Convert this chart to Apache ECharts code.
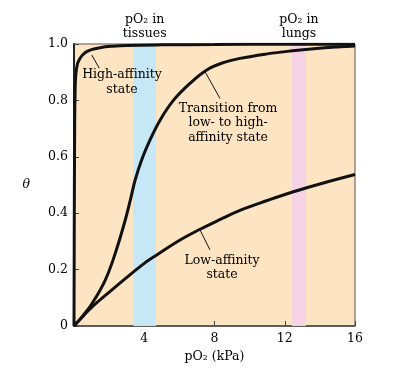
<!DOCTYPE html>
<html>
<head>
<meta charset="utf-8">
<script src="https://cdn.jsdelivr.net/npm/echarts@6/dist/echarts.min.js"></script>
<style>
  html, body { margin: 0; padding: 0; background: #fff; }
  #chart { width: 414px; height: 375px; }
</style>
</head>
<body>
<div id="chart"></div>
<script>
// curves: [pO2 kPa, theta]
const highAffinity = [
  [0, 0], [0.02, 0.45], [0.04, 0.72], [0.06, 0.82], [0.1, 0.89], [0.2, 0.93],
  [0.34, 0.949], [0.5, 0.962], [0.72, 0.973], [1.0, 0.98], [1.48, 0.987],
  [2.2, 0.992], [3.0, 0.995], [5, 0.997], [8, 0.998], [12, 0.999], [16, 0.999]
];
const transition = [
  [0, 0], [0.5, 0.036], [1.03, 0.08], [1.78, 0.163], [2.35, 0.258], [2.92, 0.376],
  [3.21, 0.447], [3.47, 0.515], [3.85, 0.589], [4.33, 0.66], [4.9, 0.73],
  [5.66, 0.8], [6.6, 0.86], [7.56, 0.908], [8.5, 0.934], [9.45, 0.949],
  [11, 0.965], [12.3, 0.975], [13.8, 0.984], [15.15, 0.99], [16, 0.993]
];
const lowAffinity = [
  [0, 0], [0.5, 0.034], [1.03, 0.068], [2.16, 0.128], [3.87, 0.216],
  [4.71, 0.252], [6.04, 0.305], [7.18, 0.343], [8.3, 0.377], [9.45, 0.41],
  [11, 0.445], [12.49, 0.476], [14.2, 0.507], [16, 0.537]
];

// shaded pO2 ranges
const tissueBand = [3.38, 4.67];
const lungBand = [12.41, 13.2];

const xTicks = [0, 4, 8, 12, 16];
const yTicks = [0, 0.2, 0.4, 0.6, 0.8, 1.0];

// annotation text and leader lines (data coords)
const notes = [
  { text: 'High-affinity\nstate', at: [2.73, 0.864], leader: [[1.01, 0.961], [1.44, 0.914]] },
  { text: 'Transition from\nlow- to high-\naffinity state', at: [8.77, 0.72], leader: [[7.46, 0.902], [8.31, 0.807]] },
  { text: 'Low-affinity\nstate', at: [8.43, 0.206], leader: [[7.18, 0.34], [7.74, 0.27]] }
];

const FONT = 'DejaVu Serif';
const INK = '#000';

const chart = echarts.init(document.getElementById('chart'));

const curve = (name, data) => ({
  name: name,
  type: 'line',
  data: data,
  smooth: 0.4,
  symbol: 'none',
  z: 5,
  lineStyle: { color: '#111', width: 3 }
});

const series = [
  {
    type: 'line',
    data: [],
    silent: true,
    z: 1,
    markArea: {
      silent: true,
      label: {
        position: 'top',
        distance: 3,
        fontFamily: FONT,
        fontSize: 12.5,
        lineHeight: 14,
        color: INK
      },
      data: [
        [{ xAxis: tissueBand[0], yAxis: 0, name: 'pO₂ in\ntissues', itemStyle: { color: '#c6e7f6', opacity: 1 } },
         { xAxis: tissueBand[1], yAxis: 1 }],
        [{ xAxis: lungBand[0], yAxis: 0, name: 'pO₂ in\nlungs', itemStyle: { color: '#f7d3e6', opacity: 1 } },
         { xAxis: lungBand[1], yAxis: 1 }]
      ]
    }
  },
  curve('high', highAffinity),
  curve('transition', transition),
  curve('low', lowAffinity)
];

notes.forEach(n => {
  series.push({
    type: 'line',
    data: n.leader,
    symbol: 'none',
    silent: true,
    z: 4,
    lineStyle: { color: '#111', width: 1 }
  });
  series.push({
    type: 'scatter',
    data: [n.at],
    symbolSize: 0,
    silent: true,
    z: 6,
    itemStyle: { opacity: 1 },
    label: {
      show: true,
      position: 'inside',
      formatter: n.text,
      fontFamily: FONT,
      fontSize: 12.5,
      lineHeight: 14.5,
      color: INK,
      opacity: 1,
      textBorderWidth: 0,
      align: 'center'
    }
  });
});

chart.setOption({
  animation: false,
  backgroundColor: '#ffffff',
  grid: {
    left: 74, top: 44, right: 59, bottom: 49,
    show: true,
    backgroundColor: '#fde4c3',
    borderColor: '#555',
    borderWidth: 1
  },
  xAxis: {
    type: 'value',
    min: xTicks[0],
    max: xTicks[xTicks.length - 1],
    interval: 4,
    name: 'pO₂ (kPa)',
    nameLocation: 'middle',
    nameGap: 24,
    nameTextStyle: { fontFamily: FONT, fontSize: 12.5, color: INK },
    axisLine: { lineStyle: { color: '#444', width: 1.5 } },
    axisTick: { inside: true, length: 5, lineStyle: { color: '#444' } },
    axisLabel: {
      showMinLabel: false,
      margin: 6,
      fontFamily: FONT, fontSize: 12.5, color: INK
    },
    splitLine: { show: false }
  },
  yAxis: {
    type: 'value',
    min: yTicks[0],
    max: yTicks[yTicks.length - 1],
    interval: 0.2,
    name: 'θ',
    nameLocation: 'middle',
    nameRotate: 0,
    nameGap: 44,
    nameTextStyle: { fontFamily: FONT, fontSize: 12.5, fontStyle: 'italic', color: INK },
    axisLine: { lineStyle: { color: '#222', width: 2 } },
    axisTick: { inside: true, length: 5, lineStyle: { color: '#444' } },
    axisLabel: {
      margin: 6,
      fontFamily: FONT, fontSize: 12.5, color: INK,
      formatter: v => (v === 0 ? '0' : v.toFixed(1))
    },
    splitLine: { show: false }
  },
  series: series
});
</script>
</body>
</html>
